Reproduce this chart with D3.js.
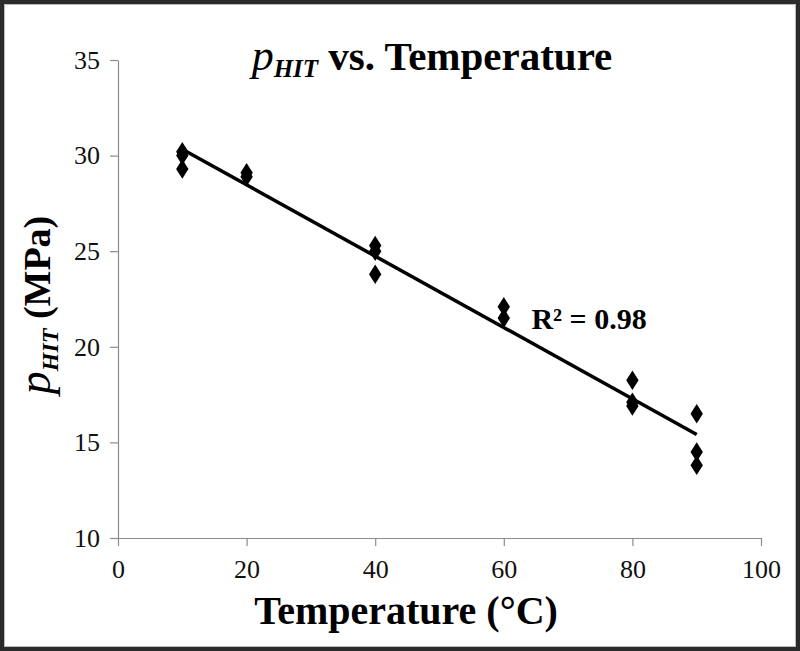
<!DOCTYPE html>
<html>
<head>
<meta charset="utf-8">
<script src="https://cdn.jsdelivr.net/npm/d3@7"></script>
<style>
  html, body { margin: 0; padding: 0; background: #fff; }
  svg text { font-family: "Liberation Serif", "Times New Roman", serif; }
</style>
</head>
<body>
<svg id="chart" width="800" height="651"></svg>
<script>
const temps = [10, 10, 10, 20, 20, 40, 40, 40, 60, 60, 80, 80, 80, 90, 90, 90];
const pHit  = [30.2, 30.0, 29.3, 29.1, 28.9, 25.3, 25.0, 23.8, 22.1, 21.5, 18.25, 17.1, 16.9, 16.5, 14.5, 13.8];
const xTicks = [0, 20, 40, 60, 80, 100];
const yTicks = [10, 15, 20, 25, 30, 35];
const rSquaredLabel = "R² = 0.98";

const svg = d3.select("#chart");
const W = 800, H = 651;

// frame around the picture
svg.append("rect").attr("x", 2).attr("y", 2).attr("width", W - 4).attr("height", H - 4)
    .attr("fill", "#fff").attr("stroke", "#2b2b2b").attr("stroke-width", 4);
svg.append("rect").attr("x", 4.5).attr("y", 4.5).attr("width", W - 9).attr("height", H - 9)
    .attr("fill", "none").attr("stroke", "#bbb").attr("stroke-width", 1);

const margin = { top: 60, right: 39, bottom: 113, left: 118 };
const width = W - margin.left - margin.right;
const height = H - margin.top - margin.bottom;

const g = svg.append("g").attr("transform", `translate(${margin.left},${margin.top})`);

const x = d3.scaleLinear().domain([0, 100]).range([0, width]);
const y = d3.scaleLinear().domain([10, 35]).range([height, 0]);

// axes
const yAxis = g.append("g")
    .call(d3.axisLeft(y).tickValues(yTicks).tickSize(8).tickPadding(10).tickSizeOuter(0));
const xAxis = g.append("g")
    .attr("transform", `translate(0,${height})`)
    .call(d3.axisBottom(x).tickValues(xTicks).tickSize(8).tickPadding(14).tickSizeOuter(0));

[xAxis, yAxis].forEach(a => {
    a.selectAll("path, line").attr("stroke", "#8c8c8c").attr("stroke-width", 1.2);
    a.selectAll("text")
        .style("font-family", "'Liberation Serif', serif")
        .style("font-size", "26px")
        .attr("fill", "#111");
});

// linear fit through the points
const mx = d3.mean(temps), my = d3.mean(pHit);
let sxy = 0, sxx = 0;
temps.forEach((t, i) => { sxy += (t - mx) * (pHit[i] - my); sxx += (t - mx) * (t - mx); });
const slope = sxy / sxx;
const intercept = my - slope * mx;
const fitX = [d3.min(temps), d3.max(temps)];

g.append("line")
    .attr("x1", x(fitX[0])).attr("y1", y(intercept + slope * fitX[0]))
    .attr("x2", x(fitX[1])).attr("y2", y(intercept + slope * fitX[1]))
    .attr("stroke", "#000").attr("stroke-width", 3.5);

// diamond markers
const diamond = d3.symbol().type(d3.symbolDiamond).size(110);
g.selectAll(".pt")
    .data(temps.map((t, i) => ({ t, p: pHit[i] })))
    .enter()
    .append("path")
    .attr("class", "pt")
    .attr("d", diamond)
    .attr("transform", d => `translate(${x(d.t)},${y(d.p)}) scale(1.1,1)`)
    .attr("fill", "#000");

// R² label
g.append("text")
    .attr("x", x(64.3)).attr("y", y(20.95))
    .style("font-size", "30px").style("font-weight", "bold")
    .text(rSquaredLabel);

// title
const title = svg.append("text")
    .attr("x", 432).attr("y", 70)
    .attr("text-anchor", "middle")
    .style("font-size", "41px").style("font-weight", "bold");
title.append("tspan").style("font-style", "italic").style("font-weight", "normal").style("font-size", "44px").text("p");
title.append("tspan").style("font-style", "italic").style("font-size", "25px").attr("dy", 7).text("HIT");
title.append("tspan").attr("dy", -7).text(" vs. Temperature");

// x axis title
svg.append("text")
    .attr("x", 406).attr("y", 624)
    .attr("text-anchor", "middle")
    .style("font-size", "40px").style("font-weight", "bold")
    .text("Temperature (°C)");

// y axis title
const yt = svg.append("text")
    .attr("transform", "translate(50,305) rotate(-90)")
    .attr("text-anchor", "middle")
    .style("font-size", "38px").style("font-weight", "bold");
yt.append("tspan").style("font-style", "italic").style("font-weight", "normal").style("font-size", "46px").text("p");
yt.append("tspan").style("font-style", "italic").style("font-size", "24px").attr("dy", 8).text("HIT");
yt.append("tspan").attr("dy", -8).text(" (MPa)");
</script>
</body>
</html>
